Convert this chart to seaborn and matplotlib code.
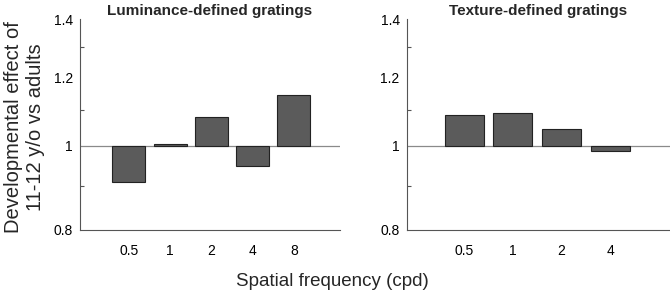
import numpy as np
import matplotlib
matplotlib.use("Agg")
import matplotlib.pyplot as plt
import seaborn as sns
from matplotlib.ticker import FixedLocator, FixedFormatter, NullFormatter

# ---- data ----
lum_freqs = ["0.5", "1", "2", "4", "8"]
lum_effect = [0.908, 1.005, 1.079, 0.948, 1.144]
tex_freqs = ["0.5", "1", "2", "4"]
tex_effect = [1.085, 1.091, 1.047, 0.988]
y_ticks = [0.8, 1, 1.2, 1.4]
y_ticklabels = ["0.8", "1", "1.2", "1.4"]
y_minor = [0.9, 1.1, 1.3]
titles = ["Luminance-defined gratings", "Texture-defined gratings"]

sns.set_theme(style="white")
plt.rcParams["font.family"] = ["Liberation Sans", "DejaVu Sans"]

fig = plt.figure(figsize=(6.7, 2.94), dpi=100)
ax1 = fig.add_axes([0.119, 0.218, 0.388, 0.716])
ax2 = fig.add_axes([0.607, 0.218, 0.393, 0.716])

spine_c = "#555555"
panels = [(ax1, lum_freqs, lum_effect, (-1.19, 5.11)),
          (ax2, tex_freqs, tex_effect, (-1.18, 4.23))]

for (ax, freqs, eff, xl), title in zip(panels, titles):
    heights = np.array(eff) - 1.0
    sns.barplot(x=freqs, y=heights, order=freqs, ax=ax, bottom=1,
                color="#5b5b5b", saturation=1, edgecolor="#222222",
                linewidth=0.8, width=0.8, errorbar=None)
    ax.axhline(1, color="#8a8a8a", lw=0.9, zorder=0.5)
    ax.set_yscale("log")
    ax.set_ylim(0.8, 1.4)
    ax.set_xlim(*xl)
    ax.yaxis.set_major_locator(FixedLocator(y_ticks))
    ax.yaxis.set_major_formatter(FixedFormatter(y_ticklabels))
    ax.yaxis.set_minor_locator(FixedLocator(y_minor))
    ax.yaxis.set_minor_formatter(NullFormatter())
    sns.despine(ax=ax)
    for s in ["left", "bottom"]:
        ax.spines[s].set_color(spine_c)
        ax.spines[s].set_linewidth(0.8)
    ax.tick_params(axis="both", which="both", direction="in", length=3,
                   width=0.8, color=spine_c, labelsize=10, labelcolor="black")
    ax.tick_params(axis="x", pad=10)
    ax.tick_params(axis="y", pad=5)
    ax.tick_params(axis="y", which="minor", left=True)
    ax.set_xlabel("")
    ax.set_ylabel("")
    ax.set_title(title, fontsize=11, fontweight="bold", pad=3)

ax1.set_ylabel("Developmental effect of\n11-12 y/o vs adults", fontsize=14.5,
               linespacing=1.2)
ax1.yaxis.set_label_coords(-0.135, 0.49)

fig.text(332 / 670, 1 - 282 / 294, "Spatial frequency (cpd)", fontsize=13.5,
         ha="center", va="center")

fig.savefig("out.png", dpi=100)
